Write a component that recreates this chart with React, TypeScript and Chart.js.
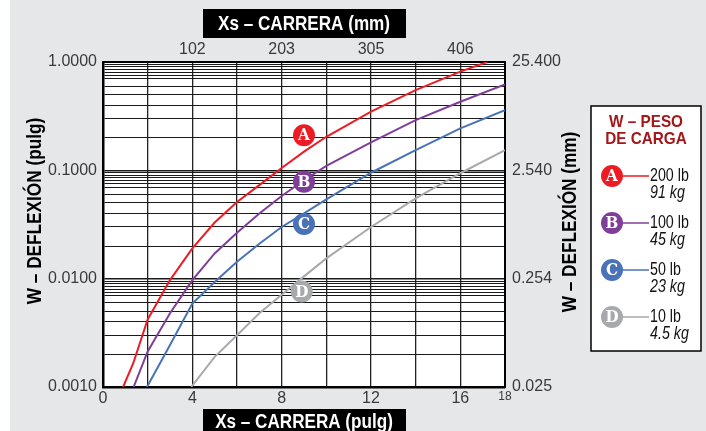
import React, { useEffect, useRef } from 'react';
import { Chart, registerables } from 'chart.js';
Chart.register(...registerables);

// ---- data ----
const seriesLetters = ['A', 'B', 'C', 'D'];
const seriesColors = ['#ed1c24', '#7f3f98', '#4a72b8', '#a7a9ac'];
const legendLb = ['200 lb', '100 lb', '50 lb', '10 lb'];
const legendKg = ['91 kg', '45 kg', '23 kg', '4.5 kg'];

const xA = [0.9, 1.35, 2, 3, 4, 5, 6, 7, 8, 9, 10, 12, 14, 16, 17.2];
const yA = [0.001, 0.00165, 0.0042, 0.0097, 0.019, 0.033, 0.051, 0.073, 0.105, 0.149, 0.204, 0.348, 0.551, 0.814, 1.0];
const xB = [1.37, 2, 3, 4, 5, 6, 7, 8, 9, 10, 12, 14, 16, 18];
const yB = [0.001, 0.00213, 0.0048, 0.0097, 0.0171, 0.0265, 0.04, 0.058, 0.081, 0.11, 0.181, 0.291, 0.43, 0.622];
const xC = [1.97, 3, 4, 5, 6, 7, 8, 9, 10, 12, 14, 16, 18];
const yC = [0.001, 0.00244, 0.0059, 0.0093, 0.0143, 0.021, 0.03, 0.04, 0.054, 0.095, 0.154, 0.244, 0.36];
const xD = [3.95, 5, 6, 7, 8, 9, 10, 12, 14, 16, 18];
const yD = [0.001, 0.0019, 0.003, 0.0048, 0.0071, 0.0105, 0.0154, 0.03, 0.055, 0.094, 0.154];

const markerX = [9, 9, 9, 8.9];
const markerY = [0.211, 0.0785, 0.0319, 0.0076];

const xGridValues = [0, 2, 4, 6, 8, 10, 12, 14, 16, 18];
const bottomLabelValues = [0, 4, 8, 12, 16, 18];
const topTickValues = [4, 8, 12, 16];
const topTickLabels = ['102', '203', '305', '406'];

const decades = [1, 0.1, 0.01, 0.001];
const leftLabels = ['1.0000', '0.1000', '0.0100', '0.0010'];
const rightLabels = ['25.400', '2.540', '0.254', '0.025'];
const gridFractions = [1, 0.95, 0.9, 0.85, 0.8, 0.75, 0.7, 0.6, 0.5, 0.4, 0.3, 0.2];

const SANS = '"Liberation Sans", Arial, sans-serif';

const yGridValues: number[] = [];
decades.slice(0, 3).forEach((d) => gridFractions.forEach((f) => yGridValues.push(+(d * f).toPrecision(6))));
yGridValues.push(0.001);

const decadeIndex = (v: number) => decades.findIndex((d) => Math.abs(v - d) / d < 1e-6);

const seriesX = [xA, xB, xC, xD];
const seriesY = [yA, yB, yC, yD];

function narrowText(ctx: any, text: string, x: number, y: number, font: string, sx: number, align: string, rot = 0) {
  ctx.save();
  ctx.translate(x, y);
  if (rot) ctx.rotate(rot);
  ctx.scale(sx, 1);
  ctx.font = font;
  ctx.textAlign = align;
  ctx.textBaseline = 'middle';
  ctx.fillText(text, 0, 0);
  ctx.restore();
}

const decor = {
  id: 'decor',
  beforeDraw(chart: any) {
    const { ctx, chartArea: ca, width, height } = chart;
    ctx.save();
    ctx.fillStyle = '#ffffff';
    ctx.fillRect(0, 0, width, height);
    ctx.fillStyle = '#e6e7e8';
    ctx.fillRect(10, 0, width - 10, height);
    ctx.fillStyle = '#ffffff';
    ctx.fillRect(ca.left, ca.top, ca.right - ca.left, ca.bottom - ca.top);
    const cx = (ca.left + ca.right) / 2;
    ctx.fillStyle = '#000000';
    ctx.fillRect(cx - 101, 9, 203, 29);
    ctx.fillRect(cx - 101, 409, 203, 24);
    ctx.restore();
  },
  afterDatasetsDraw(chart: any) {
    const { ctx } = chart;
    const meta = chart.getDatasetMeta(4);
    ctx.save();
    ctx.fillStyle = '#ffffff';
    meta.data.forEach((el: any, i: number) => {
      narrowText(ctx, seriesLetters[i], el.x, el.y + 1, 'bold 16px "DejaVu Serif", serif', 0.95, 'center');
    });
    ctx.restore();
  },
  afterDraw(chart: any) {
    const { ctx, chartArea: ca } = chart;
    const cx = (ca.left + ca.right) / 2;
    ctx.save();
    // boxed titles
    ctx.fillStyle = '#ffffff';
    narrowText(ctx, 'Xs – CARRERA (mm)', cx, 24, `bold 20px ${SANS}`, 0.855, 'center');
    narrowText(ctx, 'Xs – CARRERA (pulg)', cx, 422, `bold 20px ${SANS}`, 0.855, 'center');
    // rotated titles
    ctx.fillStyle = '#000000';
    narrowText(ctx, 'W – DEFLEXIÓN (pulg)', 35, 211, `bold 20px ${SANS}`, 0.86, 'center', -Math.PI / 2);
    narrowText(ctx, 'W – DEFLEXIÓN (mm)', 570, 222, `bold 20px ${SANS}`, 0.86, 'center', -Math.PI / 2);
    // legend box
    const lx = 591, ly = 106, lw = 110, lh = 245;
    ctx.fillStyle = '#ffffff';
    ctx.fillRect(lx, ly, lw, lh);
    ctx.strokeStyle = '#000000';
    ctx.lineWidth = 1.5;
    ctx.strokeRect(lx, ly, lw, lh);
    ctx.fillStyle = '#a4161a';
    narrowText(ctx, 'W – PESO', lx + 55, 122, `bold 17px ${SANS}`, 0.9, 'center');
    narrowText(ctx, 'DE CARGA', lx + 55, 139, `bold 17px ${SANS}`, 0.9, 'center');
    seriesLetters.forEach((letter, i) => {
      const y = 176 + i * 47;
      const c = seriesColors[i];
      ctx.strokeStyle = c;
      ctx.lineWidth = 1.6;
      ctx.beginPath();
      ctx.moveTo(612, y);
      ctx.lineTo(649, y);
      ctx.stroke();
      ctx.fillStyle = c;
      ctx.beginPath();
      ctx.arc(612, y, 11, 0, Math.PI * 2);
      ctx.fill();
      ctx.fillStyle = '#ffffff';
      narrowText(ctx, letter, 612, y + 1, 'bold 16px "DejaVu Serif", serif', 0.95, 'center');
      ctx.fillStyle = '#111111';
      narrowText(ctx, legendLb[i], 650, y, `19px ${SANS}`, 0.75, 'left');
      narrowText(ctx, legendKg[i], 650, y + 17, `italic 19px ${SANS}`, 0.75, 'left');
    });
    ctx.restore();
  },
};

export default function App() {
  const ref = useRef<HTMLCanvasElement>(null);
  useEffect(() => {
    if (!ref.current) return;
    const lineSets = seriesX.map((xs, i) => ({
      type: 'line' as const,
      label: seriesLetters[i],
      data: xs.map((x, j) => ({ x, y: seriesY[i][j] })),
      borderColor: seriesColors[i],
      borderWidth: 2,
      pointRadius: 0,
      tension: 0,
      fill: false,
      order: 1,
      xAxisID: 'x',
      yAxisID: 'y',
    }));
    const markerSet = {
      type: 'scatter' as const,
      label: 'markers',
      data: markerX.map((x, i) => ({ x, y: markerY[i] })),
      backgroundColor: seriesColors,
      borderColor: seriesColors,
      pointRadius: 11,
      pointBorderWidth: 0,
      order: 0,
      xAxisID: 'x',
      yAxisID: 'y',
    };
    const tickColor = '#3a3a3a';
    const chart = new Chart(ref.current, {
      type: 'line',
      data: { datasets: [...lineSets, markerSet] as any },
      plugins: [decor],
      options: {
        animation: false,
        responsive: false,
        layout: { padding: 0 },
        plugins: { legend: { display: false }, tooltip: { enabled: false } },
        scales: {
          x: {
            type: 'linear',
            position: 'bottom',
            min: 0,
            max: 18,
            afterBuildTicks: (axis: any) => {
              axis.ticks = xGridValues.map((v) => ({ value: v }));
            },
            afterFit: (s: any) => {
              s.height = 44;
            },
            grid: { color: '#222222', lineWidth: 1.3, drawTicks: false },
            border: { display: true, color: '#000000', width: 2.5 },
            ticks: {
              autoSkip: false,
              maxRotation: 0,
              padding: 2,
              color: tickColor,
              font: (c: any) => ({ family: SANS, size: c.tick && c.tick.value === 18 ? 12 : 16 }),
              callback: (v: any) => (bottomLabelValues.includes(Number(v)) ? String(v) : ''),
            },
          },
          x2: {
            type: 'linear',
            position: 'top',
            min: 0,
            max: 18,
            afterBuildTicks: (axis: any) => {
              axis.ticks = topTickValues.map((v) => ({ value: v }));
            },
            afterFit: (s: any) => {
              s.height = 62;
            },
            grid: { display: false, drawTicks: false },
            border: { display: true, color: '#000000', width: 2 },
            ticks: {
              autoSkip: false,
              maxRotation: 0,
              padding: 3,
              color: tickColor,
              font: { family: SANS, size: 16 },
              callback: (v: any) => {
                const i = topTickValues.indexOf(Number(v));
                return i >= 0 ? topTickLabels[i] : '';
              },
            },
          },
          y: {
            type: 'logarithmic',
            position: 'left',
            min: 0.001,
            max: 1,
            afterBuildTicks: (axis: any) => {
              axis.ticks = yGridValues.map((v) => ({ value: v }));
            },
            afterFit: (s: any) => {
              s.width = 103;
            },
            grid: {
              color: '#1a1a1a',
              lineWidth: (c: any) => (c.tick && decadeIndex(c.tick.value) >= 0 ? 1.6 : 1),
              drawTicks: false,
            },
            border: { display: true, color: '#000000', width: 2.5 },
            ticks: {
              autoSkip: false,
              padding: 6,
              color: tickColor,
              font: { family: SANS, size: 16 },
              callback: (v: any) => {
                const i = decadeIndex(Number(v));
                return i >= 0 ? leftLabels[i] : '';
              },
            },
          },
          y2: {
            type: 'logarithmic',
            position: 'right',
            min: 0.001,
            max: 1,
            afterBuildTicks: (axis: any) => {
              axis.ticks = decades.map((v) => ({ value: v }));
            },
            afterFit: (s: any) => {
              s.width = 201;
            },
            grid: { display: false, drawTicks: false },
            border: { display: true, color: '#000000', width: 2 },
            ticks: {
              autoSkip: false,
              padding: 7,
              color: tickColor,
              font: { family: SANS, size: 16 },
              callback: (v: any) => {
                const i = decadeIndex(Number(v));
                return i >= 0 ? rightLabels[i] : '';
              },
            },
          },
        },
      } as any,
    });
    return () => chart.destroy();
  }, []);
  return (
    <div style={{ position: 'absolute', left: 0, top: 0, width: 706, height: 431 }}>
      <canvas ref={ref} width={706} height={431} style={{ display: 'block' }} />
    </div>
  );
}
